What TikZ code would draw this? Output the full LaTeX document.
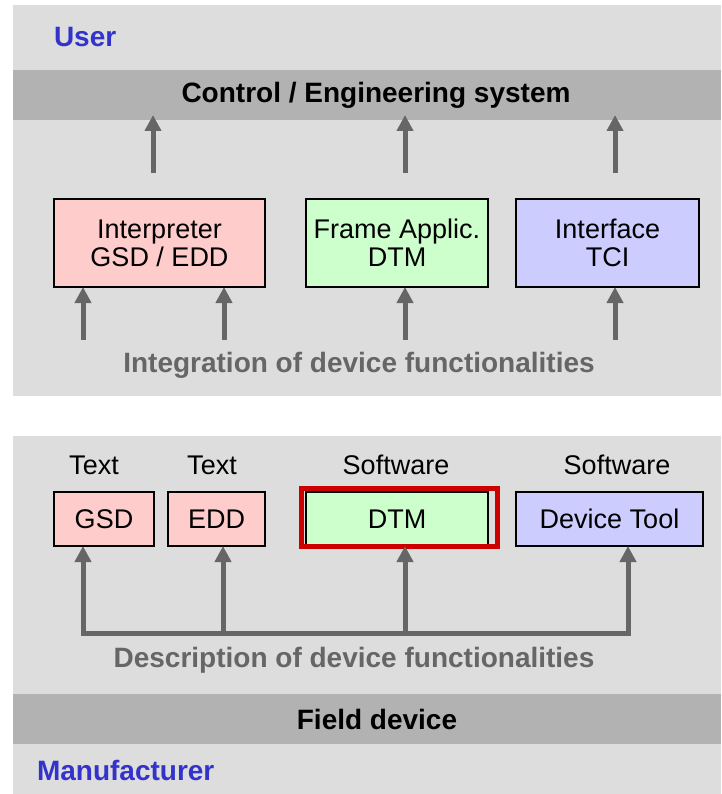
\documentclass[tikz,border=0pt]{standalone}
\usepackage{fontspec}
\setmainfont{Liberation Sans}
\usetikzlibrary{arrows.meta}
\definecolor{panel}{HTML}{DDDDDD}
\definecolor{band}{HTML}{B2B2B2}
\definecolor{arrgray}{HTML}{666666}
\definecolor{userblue}{HTML}{3333CC}
\definecolor{pinkfill}{HTML}{FFCCCC}
\definecolor{greenfill}{HTML}{CCFFCC}
\definecolor{bluefill}{HTML}{CCCCFF}
\definecolor{hired}{HTML}{CC0000}
\tikzset{
  every node/.style={inner sep=0pt, outer sep=0pt},
  boxnode/.style={draw=black, line width=2pt, rectangle, align=center,
    font=\fontsize{27}{28}\selectfont},
  plain/.style={font=\fontsize{27}{28}\selectfont},
  boldlbl/.style={font=\fontsize{28}{30}\selectfont\bfseries},
  grayarrow/.style={draw=arrgray, line width=5pt,
    -{Triangle[width=16pt,length=16pt]}},
  grayarrows/.style={draw=arrgray, line width=5pt, line join=miter,
    {Triangle[width=16pt,length=16pt]}-{Triangle[width=16pt,length=16pt]}},
}
\begin{document}
\begin{tikzpicture}[x=1pt,y=-1pt]
\useasboundingbox (0,0) rectangle (721,794);
% panels
\fill[panel] (13,5) rectangle (721,396);
\fill[panel] (13,436) rectangle (721,794);
\fill[band] (13,70) rectangle (721,120);
\fill[band] (13,694) rectangle (721,744);

% top panel texts
\node[boldlbl, text=userblue, anchor=west] (user) at (54,37) {User};
\node[boldlbl] (ctrl) at (376,95) {Control / Engineering system};

% top boxes
\node[boxnode, fill=pinkfill, minimum width=211, minimum height=88] (interp) at (159.5,243) {Interpreter\\GSD / EDD};
\node[boxnode, fill=greenfill, minimum width=182, minimum height=88] (frame) at (397,243) {Frame Applic.\\DTM};
\node[boxnode, fill=bluefill, minimum width=183, minimum height=88] (iface) at (607.5,243) {Interface\\TCI};

% upward arrows to control band
\coordinate (u1) at (153,173);
\coordinate (u2) at (405,173);
\coordinate (u3) at (615,173);
\coordinate (ctrlb) at (376,115);
\draw[grayarrow] (u1) -- (u1 |- ctrlb);
\draw[grayarrow] (u2) -- (u2 |- ctrlb);
\draw[grayarrow] (u3) -- (u3 |- ctrlb);

% upward arrows into the boxes
\coordinate (i1) at (83,340);
\coordinate (i2) at (224,340);
\coordinate (i3) at (405,340);
\coordinate (i4) at (615,340);
\draw[grayarrow] (i1) -- (i1 |- interp.south);
\draw[grayarrow] (i2) -- (i2 |- interp.south);
\draw[grayarrow] (i3) -- (i3 |- frame.south);
\draw[grayarrow] (i4) -- (i4 |- iface.south);

\node[boldlbl, text=arrgray] (integ) at (359,365) {Integration of device functionalities};

% bottom panel labels
\node[plain] (t1) at (94,465) {Text};
\node[plain] (t2) at (212,465) {Text};
\node[plain] (s1) at (396,465) {Software};
\node[plain] (s2) at (617,465) {Software};

% bottom boxes
\node[boxnode, fill=pinkfill, minimum width=100, minimum height=54] (gsd) at (104,519) {GSD};
\node[boxnode, fill=pinkfill, minimum width=97, minimum height=54] (edd) at (216.5,519) {EDD};
\node[boxnode, fill=greenfill, minimum width=182, minimum height=54] (dtm) at (397,519) {DTM};
\node[boxnode, fill=bluefill, minimum width=187, minimum height=54] (tool) at (609.5,519) {Device Tool};
\draw[hired, line width=5pt] (301.5,488.5) rectangle (497.5,546.5);

% bus
\coordinate (b1) at (83,633);
\coordinate (b2) at (223,633);
\coordinate (b3) at (405,633);
\coordinate (b4) at (628,633);
\draw[grayarrows] (b1 |- gsd.south) -- (b1) -- (b4) -- (b4 |- tool.south);
\draw[grayarrow] (b2) -- (b2 |- edd.south);
\draw[grayarrow] (b3) -- (b3 |- dtm.south);

\node[boldlbl, text=arrgray] (descr) at (354,660) {Description of device functionalities};
\node[boldlbl] (field) at (377,719) {Field device};
\node[boldlbl, text=userblue, anchor=west] (manu) at (37,770) {Manufacturer};
\end{tikzpicture}
\end{document}
